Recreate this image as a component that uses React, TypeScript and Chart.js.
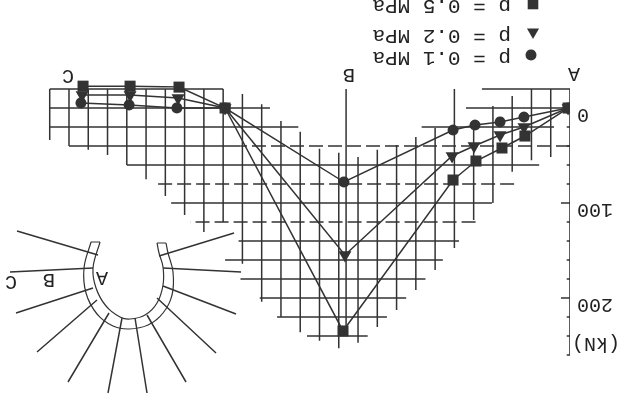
import React, { useEffect, useRef } from "react";
import { Chart, registerables } from "chart.js";

Chart.register(...registerables);

// All series: x = position along the section in grid steps, y = load in kN
const seriesNames = ["p = 0.1 MPa", "p = 0.2 MPa", "p = 0.5 MPa"];
const circleX = [0.1, 2.39, 3.63, 4.93, 6.07, 11.73, 17.9, 20.4, 22.88, 25.38];
const circleY = [0, 9.5, 14.7, 17.9, 23.2, 77.9, 0, 0, -3.2, -5.3];
const triangleX = [0.1, 2.39, 3.63, 4.98, 6.12, 11.68, 17.9, 20.34, 22.83, 25.32];
const triangleY = [0, 20, 28.4, 40, 50.5, 154.7, 0, -10.5, -13.7, -13.7];
const squareX = [0.1, 2.34, 3.53, 4.88, 6.07, 11.78, 17.9, 20.29, 22.83, 25.27];
const squareY = [0, 29.5, 42.1, 55.8, 75.8, 234.7, 0, -22, -23, -23];

const axisTicks = [0, 100, 200];

// [kN, from step, to step]
const hGridSolid = [
  [-20, 0, 4.57], [-20, 18, 27],
  [0, 0, 5.4], [0, 15.57, 27],
  [20, 0.83, 7.7], [20, 14.1, 27],
  [40, 17.1, 26],
  [60, 1.6, 23],
  [100, 4.05, 20.7],
  [140, 5.76, 17.2],
  [160, 6.6, 17.9],
  [180, 7.5, 17.1],
  [200, 8.5, 16.1],
  [220, 9.5, 15.2],
  [240, 10.5, 13.65],
];
const hGridDashed = [
  [40, 0, 17.1],
  [80, 2.9, 21.6],
  [120, 4.9, 19.7],
];
// [step, from kN, to kN]
const vGrid = [
  [27, -20, 33.7], [26, -20, 40], [25, -20, 44], [24, -20, 49.5], [23, -20, 60],
  [22, -20, 75], [21, -20, 92.6], [20, -20, 112.6], [19, -20, 130.5], [18, -20, 120],
  [17, -14.7, 164], [16, -4, 204], [15, 13.7, 220], [14, 25, 236], [13, 43, 245],
  [12, 47, 253], [11.62, -20, 230.5], [11, 51.6, 247], [10, 44, 230.5], [9, 39, 212.6],
  [8, 30.5, 191.6], [7, 21, 170.5], [6, -20, 147.4], [5, 18, 118], [4, -2, 100],
  [3, -12.6, 67], [2, -20, 55], [1, -20, 51.6],
];
const axisMinorTicks = [20, 40, 60, 80, 120, 140, 160, 180, 220, 240, 260];
const axisMajorTicks = [100, 200];

// Key diagram, in its own sheet units
const shellOuter = [[91, 242], [84, 268], [86, 293], [97, 314], [113, 326], [129, 329], [148, 325], [163, 313], [172, 295], [173, 272], [168, 253], [166, 243]];
const shellInner = [[100, 242], [93, 268], [96, 288], [106, 306], [120, 317], [130, 319], [145, 315], [157, 303], [163, 285], [163, 267], [159, 253], [157, 243]];
const shellCaps = [[[91, 242], [100, 242]], [[157, 243], [166, 243]]];
const spokes = [
  [[159, 256], [234, 233]], [[163, 268], [241, 272]], [[163, 286], [236, 314]],
  [[157, 298], [216, 353]], [[147, 315], [186, 382]], [[135, 318], [147, 393]],
  [[122, 318], [108, 393]], [[109, 313], [68, 382]], [[97, 300], [37, 352]],
  [[93, 288], [16, 313]], [[93, 268], [10, 272]], [[98, 255], [17, 231]],
];
const legendMarkY = [55, 32, 4];
const legendMarkX = [531, 533, 533];
const legendTextBaseline = [52, 30, 0];
const sheetLabels: [string, number, number][] = [
  ["A", 574, 73], ["B", 349, 74], ["C", 68, 75],
  ["A", 102, 277], ["B", 49, 279], ["C", 11, 281],
  ["(kN)", 596, 343],
];

const INK = "#333333";
const FONT = '"Liberation Mono", monospace';

const segs = (list: number[][][]) =>
  list.flatMap((s) => [{ x: s[0][0], y: s[0][1] }, { x: s[1][0], y: s[1][1] }, { x: s[1][0], y: null }]);
const hSegs = (list: number[][]) => segs(list.map(([v, a, b]) => [[a, v], [b, v]]));
const vSegs = (list: number[][]) => segs(list.map(([i, a, b]) => [[i, a], [i, b]]));
const zip = (xs: number[], ys: number[]) => xs.map((x, i) => ({ x, y: ys[i] }));
const pairs = (list: number[][]) => list.map(([x, y]) => ({ x, y }));

const textPlugin = {
  id: "sheetText",
  afterDraw(chart: any) {
    const { ctx, scales } = chart;
    const sx = scales.sx;
    const sy = scales.sy;
    ctx.save();
    ctx.fillStyle = "#222";
    ctx.font = `20px ${FONT}`;
    ctx.textAlign = "center";
    ctx.textBaseline = "middle";
    sheetLabels.forEach(([t, x, y]) => ctx.fillText(t, sx.getPixelForValue(x), sy.getPixelForValue(y)));
    ctx.font = `21px ${FONT}`;
    ctx.textAlign = "left";
    ctx.textBaseline = "alphabetic";
    seriesNames.forEach((t, i) => ctx.fillText(t, sx.getPixelForValue(511), sy.getPixelForValue(legendTextBaseline[i])));
    ctx.restore();
  },
};

export default function App() {
  const ref = useRef<HTMLCanvasElement>(null);
  useEffect(() => {
    const line = (label: string, data: any[], extra: any = {}) => ({
      label, data, showLine: true, pointRadius: 0, borderColor: INK, borderWidth: 1.5, spanGaps: false, ...extra,
    });
    const sheet = { xAxisID: "sx", yAxisID: "sy" };
    const series = (label: string, data: any[], pointStyle: string, pointRadius: number) => ({
      label, data, showLine: true, pointStyle, pointRadius,
      borderColor: INK, backgroundColor: "#333", pointBorderColor: "#333", borderWidth: 1.5, pointBorderWidth: 0,
    });
    const chart = new Chart(ref.current!, {
      type: "scatter",
      data: {
        datasets: [
          line("grid", [...hSegs(hGridSolid), ...vSegs(vGrid)]),
          line("grid dashed", hSegs(hGridDashed), { borderDash: [14, 5] }),
          line("axis", [{ x: 0, y: -20 }, { x: 0, y: 260 }], { borderWidth: 1.6 }),
          line("axis ticks", [
            ...segs(axisMinorTicks.map((v) => [[0, v], [0.17, v]])),
            ...segs(axisMajorTicks.map((v) => [[0, v], [0.47, v]])),
          ]),
          series(seriesNames[2], zip(squareX, squareY), "rect", 7.8),
          series(seriesNames[1], zip(triangleX, triangleY), "triangle", 7.5),
          series(seriesNames[0], zip(circleX, circleY), "circle", 5.5),
          { label: "key 0.1", ...sheet, data: [{ x: legendMarkX[0], y: legendMarkY[0] }], pointStyle: "circle", pointRadius: 5.5, backgroundColor: "#333", pointBorderWidth: 0 },
          { label: "key 0.2", ...sheet, data: [{ x: legendMarkX[1], y: legendMarkY[1] }], pointStyle: "triangle", pointRadius: 7, backgroundColor: "#333", pointBorderWidth: 0 },
          { label: "key 0.5", ...sheet, data: [{ x: legendMarkX[2], y: legendMarkY[2] }], pointStyle: "rect", pointRadius: 7.5, backgroundColor: "#333", pointBorderWidth: 0 },
          line("shell outer", pairs(shellOuter), { ...sheet, tension: 0.4, borderWidth: 1.2 }),
          line("shell inner", pairs(shellInner), { ...sheet, tension: 0.4, borderWidth: 1.2 }),
          line("shell caps", segs(shellCaps), { ...sheet, borderWidth: 1.2 }),
          line("spokes", segs(spokes), sheet),
        ],
      },
      options: {
        responsive: false,
        animation: false,
        layout: { padding: 0, autoPadding: false },
        plugins: { legend: { display: false }, tooltip: { enabled: false } },
        scales: {
          x: { type: "linear", min: 0, max: 29.58, display: false },
          y: {
            type: "linear",
            min: -113.7,
            max: 300,
            border: { display: false },
            grid: { display: false, drawTicks: false },
            afterBuildTicks: (s: any) => { s.ticks = axisTicks.map((value) => ({ value })); },
            afterFit: (s: any) => { s.width = 58; s.paddingTop = 0; s.paddingBottom = 0; s.paddingLeft = 0; s.paddingRight = 0; },
            ticks: {
              color: "#222",
              font: { family: FONT, size: 20 },
              padding: 7,
              labelOffset: -6,
              autoSkip: false,
              callback: (v: any) => String(v),
            },
          },
          sx: { type: "linear", axis: "x", min: 0, max: 570, reverse: true, display: false },
          sy: { type: "linear", axis: "y", min: 0, max: 393, display: false },
        },
      } as any,
      plugins: [textPlugin],
    } as any);
    return () => chart.destroy();
  }, []);
  return (
    <canvas
      ref={ref}
      width={628}
      height={393}
      style={{ position: "fixed", left: 0, top: 0, width: 628, height: 393, transform: "rotate(180deg)", background: "#fff", filter: "blur(0.35px)" }}
    />
  );
}
